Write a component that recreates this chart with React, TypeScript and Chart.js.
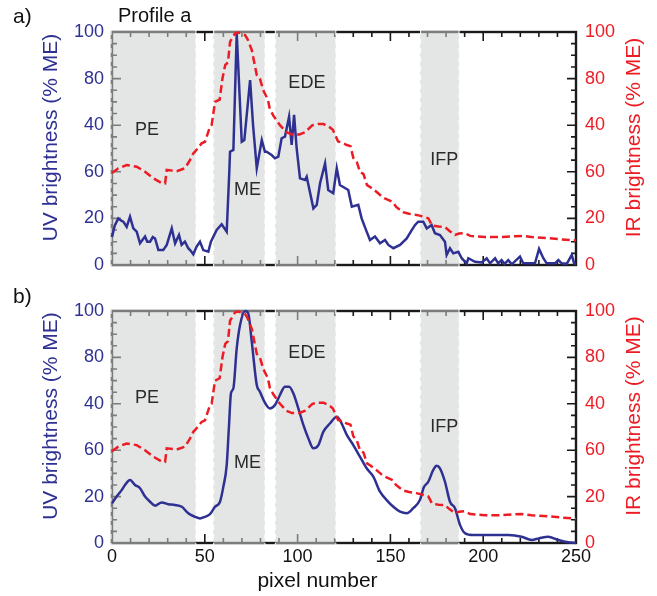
import React, { useEffect, useRef } from "react";
import { Chart, registerables } from "chart.js";
Chart.register(...registerables);

// ---------- data ----------
const PIXEL_MIN = 0;
const PIXEL_MAX = 250;
const BRIGHT_MIN = 0;
const BRIGHT_MAX = 100;
// tick labels exactly as printed on both brightness axes (values 0,20,40,60,80,100)
const BRIGHTNESS_TICK_LABELS = ["0", "20", "60", "40", "80", "100"];
const PIXEL_TICK_STEP = 50;

// panel a: UV profile (pixel, % ME)
const UV_A: [number, number][] = [
  [0, 12], [1.5, 17], [3.4, 20], [5, 19], [6.1, 18.6], [7.9, 16.4], [9.7, 20.7], [11.5, 15.7],
  [13.3, 14.3], [15.1, 9.3], [17.8, 12.2], [19, 10], [20.5, 10], [22, 12], [23.2, 11.4], [25, 6.4],
  [27.6, 6.4], [29.5, 8.6], [32.2, 15.7], [34, 9.3], [36.1, 12.9], [37.5, 8.6], [39.3, 10], [41.1, 7.2],
  [42.5, 6], [43.8, 4.6], [45.6, 7.9], [47.4, 10], [49.2, 6.4], [51.9, 5.7], [53.3, 10], [56.4, 15],
  [59.1, 17.5], [61.8, 14.3], [63.2, 40], [63.6, 48.6], [65.4, 49.4], [67.2, 99.4], [69.9, 52.9],
  [71.3, 53.6], [74.4, 79.4], [76, 60], [78, 41.5], [80.7, 53.6], [82.4, 48.6], [83.3, 48.6],
  [86, 47.2], [87.8, 45.8], [89.6, 46.5], [91.4, 54.4], [93.2, 55.1], [95.4, 63.6], [96.8, 51.5],
  [98.1, 64.4], [99.5, 50], [101.3, 37.2], [104, 36.5], [104.9, 37.9], [108.5, 24.3], [110.3, 25.8],
  [112.1, 35.1], [114.8, 43.6], [116.5, 32.2], [119.2, 30.8], [121.1, 41.5], [122.8, 34.3],
  [127.3, 32.2], [129.2, 25], [132.7, 25.8], [134.5, 20], [137.2, 14.3], [139, 10.7], [141.7, 12.2],
  [144.4, 9.3], [147.1, 10.7], [148.9, 8.6], [151.6, 7.2], [155.2, 8.6], [158.8, 11.4], [161.5, 15],
  [163.3, 17.2], [165, 18.6], [167.7, 18.6], [169.6, 15.7], [172.2, 17.2], [174, 13.6], [176.7, 12.9],
  [179.4, 10], [180.3, 4.3], [182.1, 7.2], [183.9, 5], [186.6, 5.7], [188.4, 2.9], [191.1, 0.7],
  [192, 2.9], [195.6, 1.4], [199.2, 1.1], [201.9, 2.9], [203.7, 0.7], [206.4, 2.9], [208.1, 0.7],
  [209.9, 2.1], [211.5, 0.5], [213.5, 2.1], [215.4, 0.3], [219.8, 3.6], [221.5, 0.8], [224.3, 0.7],
  [227.9, 0.7], [230.1, 6.9], [232.4, 2.9], [234.2, 0.7], [238.7, 0.7], [240.5, 2.1], [242.3, 0.7],
  [245, 0.5], [247.7, 4.3], [249, 0.7], [250, 0.5],
];

// panel b: smoothed UV profile (pixel, % ME)
const UV_B: [number, number][] = [
  [0, 17.1], [2.5, 20], [5.2, 22.8], [7, 25], [9.7, 27.2], [12.4, 25], [15.1, 23.6], [17.8, 20],
  [20.5, 17.8], [23.2, 16.1], [26.8, 17.5], [30.3, 16.7], [33.9, 16.4], [37.6, 15.6], [41.1, 12.8],
  [44.7, 11.3], [47.4, 10.6], [50.1, 11.3], [52.8, 12.4], [55.5, 15.6], [58.2, 17.8], [60, 24.3],
  [61.8, 33.6], [63, 50], [64.1, 64.5], [65.4, 66.7], [67.2, 83.9], [69, 94], [71.7, 100], [73.4, 99],
  [75.3, 86.8], [78, 68.1], [79.7, 65.2], [82.1, 60.9], [85.1, 58], [87.8, 59.5], [90.5, 63.8],
  [93.2, 67.4], [95.5, 67.4], [97.7, 64.5], [100.4, 58], [103.1, 50.9], [105.8, 45.1], [108.5, 40.8],
  [111.2, 42.2], [113.9, 48], [117.5, 51.6], [121.1, 54.4], [122.8, 53], [126.5, 46.6], [130, 42.2],
  [133.6, 37.2], [137.2, 32.2], [140.8, 28.6], [144.4, 22.1], [148, 18.5], [151.6, 15.6],
  [155.2, 13.5], [158.8, 12.8], [162.3, 15], [165.9, 18.5], [168, 24], [170.4, 26.4], [173.1, 31.5],
  [174.9, 33.3], [176.7, 32.2], [179.4, 26.4], [182.1, 17.8], [184.8, 15], [187.5, 7.8], [190.2, 4.2],
  [194.7, 3.4], [199.2, 3.4], [206.4, 3.4], [213.5, 3.4], [220.7, 2.7], [226.1, 1.3], [230, 2],
  [235, 2.7], [240.5, 1.3], [245.8, 0.3], [250, 0],
];

// IR profile, same in both panels (pixel, % ME)
const IR: [number, number][] = [
  [0, 39.5], [3.4, 41.5], [7.9, 42.9], [13.3, 42.2], [17.8, 40], [22.3, 37.2], [26.8, 35.1],
  [28.6, 35], [29.5, 40.8], [34.9, 40.3], [39.3, 41.5], [42, 45], [43.8, 47.9], [44.7, 48.6],
  [48.3, 52.2], [50.1, 52.9], [52.8, 59.4], [53.7, 60.1], [55.5, 70], [58, 71], [59.5, 80],
  [61, 85.8], [62.5, 87], [63.6, 95.8], [66.3, 99.4], [68, 99.8], [71.7, 98.7], [73, 97],
  [75.3, 92.3], [78, 81.5], [79.7, 80], [81.5, 75], [84, 71], [85, 67], [87, 64], [90.5, 60],
  [94, 57], [97, 56], [101, 56], [104, 57], [108, 60], [111, 60.5], [114, 60.5], [117.5, 59],
  [119, 58], [121.8, 53], [124, 52.5], [126.5, 51.5], [128.5, 51], [130, 46], [132, 44],
  [133.6, 40], [135.5, 39], [137.4, 34.3], [139, 33.5], [141.7, 32], [146, 29], [151.4, 27],
  [153, 25], [156.8, 22.7], [160, 22], [164, 21.5], [168.6, 20.6], [170.5, 20], [172.4, 17],
  [176, 16.5], [179.4, 16.3], [182, 14.5], [184.8, 12.9], [187, 13.5], [190, 13.7], [193, 12.5],
  [201, 12], [210, 12], [216, 12.3], [221, 12.5], [226, 12], [235, 11.5], [242, 11], [250, 10.5],
];

// shaded regions (pixel ranges)
const REGION_NAMES = ["PE", "ME", "EDE", "IFP"];
const REGION_START = [0, 55.3, 88.6, 166.8];
const REGION_END = [45.2, 82.4, 120.6, 187];

// ---------- annotation placement (data coordinates) ----------
const REGION_LABEL_X = [18.9, 73, 105, 179];
const REGION_LABEL_Y_A = [58, 32, 78, 45];
const REGION_LABEL_Y_B = [62.7, 34.3, 82, 50];

// ---------- styles ----------
const FONT = '"Liberation Sans", Arial, Helvetica, sans-serif';
const UV_COLOR = "#2E3192";
const IR_COLOR = "#ED1C24";
const SHADE = "rgba(206,207,207,0.545)";

function decorPlugin(opts: any) {
  return {
    id: "decor",
    beforeDatasetsDraw(chart: any) {
      const { ctx, chartArea: ca } = chart;
      const xs = chart.scales.x;
      const ys = chart.scales.y;
      ctx.save();
      // inward ticks
      ctx.strokeStyle = "#1a1a1a";
      ctx.lineWidth = 1.6;
      ctx.beginPath();
      for (let v = BRIGHT_MIN; v <= BRIGHT_MAX; v += 5) {
        const py = ys.getPixelForValue(v);
        const len = v % 20 === 0 ? 9 : 5;
        ctx.moveTo(ca.left, py);
        ctx.lineTo(ca.left + len, py);
        ctx.moveTo(ca.right, py);
        ctx.lineTo(ca.right - len, py);
      }
      for (let v = PIXEL_MIN; v <= PIXEL_MAX; v += 10) {
        const px = xs.getPixelForValue(v);
        const len = v % 50 === 0 ? 9 : 5;
        ctx.moveTo(px, ca.bottom);
        ctx.lineTo(px, ca.bottom - len);
        ctx.moveTo(px, ca.top);
        ctx.lineTo(px, ca.top + len);
      }
      ctx.stroke();
      ctx.lineWidth = 2.4;
      ctx.strokeRect(ca.left, ca.top, ca.right - ca.left, ca.bottom - ca.top);
      // shaded regions
      ctx.fillStyle = SHADE;
      for (let i = 0; i < REGION_NAMES.length; i++) {
        const x0 = xs.getPixelForValue(REGION_START[i]) - 1.5;
        const x1 = xs.getPixelForValue(REGION_END[i]);
        ctx.fillRect(x0, ca.top - 2, x1 - x0, ca.bottom - ca.top + 4);
      }
      ctx.setLineDash([5, 4]);
      ctx.strokeStyle = "rgba(255,255,255,0.85)";
      ctx.lineWidth = 1.2;
      ctx.beginPath();
      for (let i = 0; i < REGION_NAMES.length; i++) {
        for (const v of [REGION_START[i], REGION_END[i]]) {
          const px = xs.getPixelForValue(v) - (v === REGION_START[i] ? 1 : 0);
          ctx.moveTo(px, ca.top - 2);
          ctx.lineTo(px, ca.bottom + 2);
        }
      }
      ctx.stroke();
      ctx.restore();
    },
    afterDatasetsDraw(chart: any) {
      const { ctx, chartArea: ca } = chart;
      const xs = chart.scales.x;
      const ys = chart.scales.y;
      ctx.save();
      ctx.font = `18px ${FONT}`;
      ctx.fillStyle = "#2a2a2a";
      ctx.textAlign = "center";
      ctx.textBaseline = "middle";
      for (let i = 0; i < REGION_NAMES.length; i++) {
        ctx.fillText(
          REGION_NAMES[i],
          xs.getPixelForValue(REGION_LABEL_X[i]),
          ys.getPixelForValue(opts.labelY[i])
        );
      }
      const cy = (ca.top + ca.bottom) / 2;
      ctx.font = `21px ${FONT}`;
      ctx.fillStyle = UV_COLOR;
      ctx.save();
      ctx.translate(51, cy - 11);
      ctx.rotate(-Math.PI / 2);
      ctx.fillText("UV brightness (% ME)", 0, 0);
      ctx.restore();
      ctx.fillStyle = IR_COLOR;
      ctx.save();
      ctx.translate(634, cy - 11);
      ctx.rotate(-Math.PI / 2);
      ctx.fillText("IR brightness (% ME)", 0, 0);
      ctx.restore();

      ctx.textBaseline = "alphabetic";
      ctx.textAlign = "left";
      ctx.fillStyle = "#111";
      ctx.font = `21px ${FONT}`;
      ctx.fillText(opts.letter, 13, 22.5);
      if (opts.subtitle) {
        ctx.font = `20px ${FONT}`;
        ctx.fillText(opts.subtitle, 118, 21.7);
      }
      if (opts.showX) {
        ctx.font = `21px ${FONT}`;
        ctx.textAlign = "center";
        ctx.fillText("pixel number", 317.5, chart.height - 9);
      }
      ctx.restore();
    },
  };
}

function buildConfig(opts: any): any {
  const tickFont = { family: FONT, size: 18 };
  return {
    type: "line",
    data: {
      datasets: [
        {
          label: "UV",
          data: opts.uv.map(([x, y]: number[]) => ({ x, y })),
          yAxisID: "y",
          borderColor: UV_COLOR,
          borderWidth: 2.5,
          pointRadius: 0,
          tension: opts.smooth ? 0.35 : 0,
          cubicInterpolationMode: opts.smooth ? "monotone" : "default",
          clip: 4,
          order: 2,
        },
        {
          label: "IR",
          data: IR.map(([x, y]) => ({ x, y })),
          yAxisID: "y2",
          borderColor: IR_COLOR,
          borderWidth: 2.5,
          borderDash: [8, 4],
          pointRadius: 0,
          tension: 0,
          clip: 4,
          order: 1,
        },
      ],
    },
    options: {
      animation: false,
      responsive: false,
      maintainAspectRatio: false,
      layout: { padding: { top: opts.padTop, left: 0, right: 0, bottom: 0 } },
      plugins: { legend: { display: false }, tooltip: { enabled: false } },
      scales: {
        x: {
          type: "linear",
          position: "bottom",
          min: PIXEL_MIN,
          max: PIXEL_MAX,
          grid: { display: false, drawTicks: false },
          border: { display: false },
          ticks: {
            display: opts.showX,
            stepSize: PIXEL_TICK_STEP,
            autoSkip: false,
            maxRotation: 0,
            padding: 3,
            color: "#111",
            font: tickFont,
          },
          afterFit: (s: any) => {
            s.height = opts.xAxisHeight;
          },
        },
        y: {
          type: "linear",
          position: "left",
          min: BRIGHT_MIN,
          max: BRIGHT_MAX,
          grid: { display: false, drawTicks: false },
          border: { display: false },
          ticks: {
            stepSize: 20,
            autoSkip: false,
            padding: 8,
            color: UV_COLOR,
            font: tickFont,
            callback: (v: number) => BRIGHTNESS_TICK_LABELS[Math.round(v / 20)],
          },
          afterFit: (s: any) => {
            s.width = 112;
          },
        },
        y2: {
          type: "linear",
          position: "right",
          min: BRIGHT_MIN,
          max: BRIGHT_MAX,
          grid: { display: false, drawTicks: false },
          border: { display: false },
          ticks: {
            stepSize: 20,
            autoSkip: false,
            padding: 9,
            color: IR_COLOR,
            font: tickFont,
            callback: (v: number) => BRIGHTNESS_TICK_LABELS[Math.round(v / 20)],
          },
          afterFit: (s: any) => {
            s.width = 81;
          },
        },
      },
    },
    plugins: [decorPlugin(opts)],
  };
}

export default function App() {
  const refA = useRef<HTMLCanvasElement>(null);
  const refB = useRef<HTMLCanvasElement>(null);
  useEffect(() => {
    const a = new Chart(
      refA.current as HTMLCanvasElement,
      buildConfig({
        uv: UV_A,
        smooth: false,
        showX: false,
        padTop: 32,
        xAxisHeight: 35,
        letter: "a)",
        subtitle: "Profile a",
        labelY: REGION_LABEL_Y_A,
      })
    );
    const b = new Chart(
      refB.current as HTMLCanvasElement,
      buildConfig({
        uv: UV_B,
        smooth: true,
        showX: true,
        padTop: 31,
        xAxisHeight: 53,
        letter: "b)",
        subtitle: "",
        labelY: REGION_LABEL_Y_B,
      })
    );
    return () => {
      a.destroy();
      b.destroy();
    };
  }, []);
  return (
    <div style={{ position: "fixed", left: 0, top: 0, width: 657, height: 596, background: "#fff" }}>
      <canvas
        ref={refA}
        width={657}
        height={300}
        style={{ position: "absolute", left: 0, top: 0, width: 657, height: 300 }}
      />
      <canvas
        ref={refB}
        width={657}
        height={316}
        style={{ position: "absolute", left: 0, top: 280, width: 657, height: 316 }}
      />
    </div>
  );
}
